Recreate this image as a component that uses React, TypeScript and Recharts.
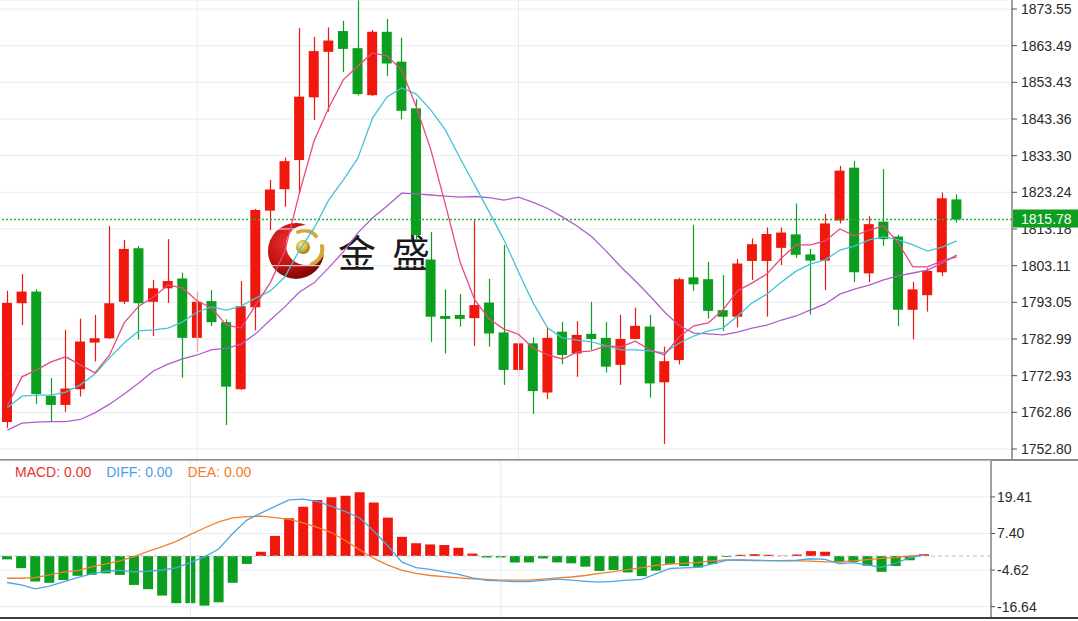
import React from 'react';
import { ComposedChart, Bar, Line, XAxis, YAxis, CartesianGrid, ReferenceLine, Cell } from 'recharts';

// ---------- data ----------
const opens = [1760.2, 1792.8, 1796.0, 1767.4, 1764.9, 1769.2, 1782.0, 1783.2, 1793.2, 1807.9, 1793.2, 1796.9, 1799.6, 1783.3, 1793.4, 1787.6, 1769.2, 1791.7, 1818.2, 1824.1, 1832.1, 1849.3, 1861.8, 1867.5, 1862.8, 1849.9, 1867.3, 1859.1, 1846.3, 1804.8, 1789.3, 1789.6, 1788.7, 1793.0, 1784.8, 1774.5, 1781.8, 1768.3, 1785.0, 1779.0, 1784.4, 1783.3, 1775.9, 1783.0, 1786.4, 1771.1, 1777.2, 1799.9, 1799.4, 1790.9, 1789.1, 1804.4, 1804.4, 1808.0, 1811.7, 1806.2, 1804.5, 1815.5, 1830.0, 1801.0, 1815.2, 1811.1, 1791.0, 1795.0, 1801.3, 1821.3];
const highs = [1796.2, 1800.8, 1796.6, 1772.3, 1785.5, 1788.6, 1789.6, 1814.0, 1810.2, 1808.5, 1799.2, 1810.4, 1801.2, 1796.0, 1796.4, 1788.4, 1798.9, 1818.7, 1826.6, 1832.8, 1868.4, 1865.9, 1868.5, 1870.3, 1875.9, 1867.8, 1870.8, 1865.7, 1848.8, 1812.4, 1796.6, 1795.3, 1815.6, 1799.5, 1808.8, 1794.4, 1783.4, 1786.2, 1787.7, 1787.9, 1793.2, 1787.7, 1789.6, 1791.6, 1789.6, 1780.9, 1799.8, 1814.3, 1804.2, 1800.5, 1804.9, 1810.6, 1813.6, 1813.6, 1820.2, 1807.7, 1817.3, 1830.5, 1831.8, 1816.7, 1829.6, 1811.6, 1798.7, 1802.4, 1823.2, 1822.7];
const lows = [1758.6, 1786.8, 1765.2, 1760.3, 1763.0, 1767.2, 1776.8, 1783.0, 1792.6, 1782.9, 1783.8, 1792.9, 1772.4, 1779.5, 1786.5, 1759.4, 1769.0, 1785.4, 1812.9, 1819.3, 1822.8, 1843.1, 1845.4, 1856.3, 1849.8, 1849.7, 1855.2, 1843.3, 1810.0, 1782.2, 1779.0, 1786.4, 1781.1, 1780.9, 1770.4, 1772.6, 1762.4, 1766.5, 1776.1, 1772.6, 1780.0, 1773.8, 1770.4, 1782.9, 1766.9, 1754.2, 1776.0, 1796.2, 1788.6, 1785.2, 1786.2, 1799.2, 1789.1, 1803.3, 1805.3, 1789.7, 1796.4, 1814.7, 1798.6, 1798.6, 1808.5, 1786.5, 1782.9, 1790.5, 1800.3, 1814.9];
const closes = [1792.9, 1796.0, 1767.9, 1764.9, 1769.4, 1782.3, 1783.2, 1792.8, 1807.7, 1792.8, 1796.9, 1798.9, 1783.3, 1793.2, 1787.6, 1769.9, 1792.0, 1818.4, 1824.0, 1831.8, 1849.5, 1862.0, 1864.9, 1862.6, 1850.2, 1867.3, 1858.6, 1845.6, 1811.5, 1789.1, 1788.5, 1788.5, 1792.3, 1784.5, 1774.5, 1781.8, 1768.7, 1783.3, 1778.6, 1784.1, 1783.0, 1775.4, 1783.0, 1786.6, 1770.8, 1776.9, 1799.4, 1798.0, 1790.7, 1789.1, 1803.7, 1809.0, 1811.8, 1812.2, 1806.1, 1804.5, 1814.7, 1829.2, 1801.3, 1814.5, 1810.4, 1791.0, 1796.6, 1801.7, 1821.6, 1815.78];
const ma5 = [1764.6, 1772.6, 1774.5, 1776.7, 1778.1, 1775.9, 1773.7, 1778.6, 1787.4, 1792.0, 1794.5, 1797.8, 1797.0, 1793.4, 1791.5, 1786.8, 1786.0, 1792.3, 1798.4, 1807.1, 1823.1, 1837.3, 1846.4, 1854.1, 1857.9, 1861.5, 1860.7, 1856.8, 1846.7, 1834.9, 1819.8, 1804.1, 1793.7, 1788.5, 1785.7, 1784.3, 1780.5, 1778.6, 1777.5, 1779.4, 1779.7, 1781.1, 1780.8, 1782.4, 1780.0, 1778.6, 1783.6, 1786.6, 1787.4, 1791.0, 1796.2, 1798.4, 1800.8, 1805.2, 1808.8, 1808.8, 1809.9, 1813.2, 1811.3, 1812.9, 1814.0, 1809.3, 1802.8, 1802.8, 1804.4, 1805.5];
const ma10 = [1764.1, 1767.3, 1767.6, 1767.6, 1768.4, 1770.4, 1773.4, 1777.8, 1781.9, 1785.2, 1785.5, 1786.0, 1787.7, 1790.4, 1791.8, 1790.9, 1792.0, 1794.2, 1796.2, 1800.0, 1807.4, 1813.4, 1821.1, 1826.6, 1832.6, 1843.6, 1849.4, 1851.9, 1850.2, 1845.8, 1840.3, 1832.6, 1825.2, 1817.8, 1810.2, 1801.4, 1792.9, 1786.0, 1783.3, 1782.7, 1782.2, 1781.1, 1780.0, 1780.0, 1779.7, 1779.2, 1781.9, 1783.8, 1785.2, 1786.0, 1789.3, 1792.9, 1795.3, 1798.6, 1801.6, 1803.6, 1804.7, 1807.4, 1808.5, 1810.2, 1811.0, 1810.2, 1808.8, 1807.1, 1808.2, 1809.9];
const ma20 = [1758.0, 1759.9, 1760.2, 1760.3, 1760.3, 1760.9, 1762.7, 1765.1, 1767.9, 1770.9, 1774.2, 1776.1, 1777.5, 1778.6, 1780.1, 1780.4, 1781.6, 1784.4, 1788.2, 1791.8, 1795.9, 1798.4, 1802.5, 1806.9, 1812.1, 1816.2, 1819.5, 1823.0, 1822.8, 1822.5, 1822.2, 1821.9, 1822.1, 1821.8, 1821.1, 1821.9, 1820.5, 1818.8, 1816.5, 1814.0, 1811.1, 1807.1, 1802.8, 1798.9, 1794.8, 1790.4, 1786.6, 1784.6, 1784.4, 1784.1, 1784.9, 1786.0, 1786.8, 1788.2, 1789.3, 1791.0, 1792.6, 1795.3, 1796.7, 1797.8, 1799.2, 1800.3, 1801.1, 1801.9, 1803.8, 1806.0];
const macdHist = [-1.1, -4.0, -8.4, -8.8, -7.9, -6.5, -6.2, -5.7, -6.2, -9.5, -10.9, -13.0, -15.5, -15.5, -16.3, -15.2, -8.8, -2.6, 1.4, 6.6, 12.4, 16.2, 18.4, 19.3, 19.8, 20.9, 17.6, 12.6, 6.3, 4.2, 3.8, 3.6, 2.7, 0.8, -0.5, -0.5, -2.1, -2.1, -0.8, -2.1, -2.4, -3.5, -4.9, -4.6, -5.4, -6.6, -4.8, -2.6, -3.3, -3.8, -2.6, -0.3, 0.4, 0.6, 0.4, 0.1, 0.5, 1.6, 1.4, -2.1, -2.0, -3.2, -5.2, -3.3, -1.4, 0.6];
const diffLine = [-8.7, -9.5, -10.8, -9.9, -8.5, -7.1, -5.9, -5.0, -4.7, -5.2, -5.0, -4.6, -3.9, -2.1, -0.3, 2.3, 7.4, 11.8, 14.1, 16.3, 18.4, 18.7, 17.9, 16.3, 14.6, 12.5, 8.2, 3.3, -2.0, -3.8, -4.4, -5.2, -6.0, -7.2, -8.0, -8.2, -8.4, -8.4, -8.0, -7.6, -7.9, -8.3, -8.6, -8.3, -7.9, -7.7, -5.9, -4.1, -3.9, -3.7, -2.6, -1.4, -1.3, -1.4, -1.5, -1.5, -1.4, -0.9, -1.1, -2.6, -2.2, -3.0, -3.7, -2.3, -0.6, 0.3];
const deaLine = [-7.3, -7.3, -7.1, -6.2, -5.3, -4.8, -3.6, -2.6, -1.6, -0.2, 1.5, 3.1, 4.8, 7.1, 9.2, 11.2, 12.5, 12.9, 13.1, 12.6, 12.0, 10.9, 9.4, 7.7, 5.0, 2.0, -0.8, -3.0, -4.7, -5.7, -6.4, -6.8, -7.2, -7.5, -7.7, -7.9, -7.9, -7.9, -7.6, -7.2, -6.9, -6.4, -5.7, -5.1, -4.5, -3.8, -3.1, -2.7, -2.4, -2.1, -1.6, -1.3, -1.4, -1.5, -1.5, -1.6, -1.6, -1.7, -1.9, -1.9, -1.6, -1.2, -0.8, -0.5, 0.0, 0.3];
const priceTicks = [1873.55, 1863.49, 1853.43, 1843.36, 1833.30, 1823.24, 1813.18, 1803.11, 1793.05, 1782.99, 1772.93, 1762.86, 1752.80];
const macdTicks = [19.41, 7.40, -4.62, -16.64];
const lastPrice = 1815.78;
const gridMarks = [13, 35];

// ---------- styles ----------
const RED = '#f0180c';
const GREEN = '#0c9e1e';
const FONT = '"Liberation Sans", Arial, sans-serif';
const GRID = '#e8ecf0';
const PRICE_DOMAIN = [1749.78, 1876.02];

const candleData = opens.map((o, i) => ({
  i,
  open: o,
  high: highs[i],
  low: lows[i],
  close: closes[i],
  range: [lows[i], highs[i]],
  ma5: ma5[i],
  ma10: ma10[i],
  ma20: ma20[i],
}));

const macdData = macdHist.map((m, i) => ({ i, macd: m, diff: diffLine[i], dea: deaLine[i] }));

const Candle = (props: any) => {
  const { x, y, width, height, payload } = props;
  if (!payload || x == null) return null;
  const { open, close, high, low } = payload;
  const up = close >= open;
  const color = up ? RED : GREEN;
  const span = high - low;
  const toY = (v: number) => (span === 0 ? y : y + ((high - v) / span) * height);
  const yo = toY(open);
  const yc = toY(close);
  const top = Math.min(yo, yc);
  const bh = Math.max(1.5, Math.abs(yc - yo));
  const cx = Math.round(x + width / 2) + 0.5;
  return (
    <g>
      <line x1={cx} x2={cx} y1={y} y2={y + height} stroke={color} strokeWidth={1.2} />
      <rect x={x} y={top} width={width} height={bh} fill={color} />
    </g>
  );
};

const PriceTag = (props: any) => {
  const vb = props.viewBox;
  if (!vb) return null;
  const x0 = vb.x + vb.width + 1;
  return (
    <g>
      <rect x={x0} y={vb.y - 10} width={66} height={18} fill="#0c9e1e" />
      <text x={x0 + 8} y={vb.y + 4.5} fill="#fff" fontSize={14} fontFamily={FONT}>
        {lastPrice.toFixed(2)}
      </text>
    </g>
  );
};

const Watermark = () => (
  <svg width={1078} height={460} style={{ position: 'absolute', left: 0, top: 0 }}>
    <defs>
      <radialGradient id="lg" cx="35%" cy="35%" r="70%">
        <stop offset="0%" stopColor="#f03030" />
        <stop offset="60%" stopColor="#c01010" />
        <stop offset="100%" stopColor="#7a0606" />
      </radialGradient>
      <radialGradient id="gd" cx="40%" cy="35%" r="65%">
        <stop offset="0%" stopColor="#fff2a0" />
        <stop offset="60%" stopColor="#d9b030" />
        <stop offset="100%" stopColor="#9a7a10" />
      </radialGradient>
    </defs>
    <circle cx={296} cy={251} r={28} fill="url(#lg)" />
    <circle cx={306} cy={245} r={20} fill="#fff" />
    <circle cx={303} cy={247} r={7} fill="url(#gd)" />
    <path d="M 298 232 A 15 15 0 0 1 316 236" stroke="#d4a838" strokeWidth={4} fill="none" strokeLinecap="round" />
    <path d="M 322 246 A 16 16 0 0 1 312 264" stroke="#d4a838" strokeWidth={4} fill="none" strokeLinecap="round" />
    <text x={338} y={267} fontSize={38} fill="#1a1a1a" fontFamily='"Noto Sans CJK SC", sans-serif'>金</text>
    <text x={392} y={267} fontSize={38} fill="#1a1a1a" fontFamily='"Noto Sans CJK SC", sans-serif'>盛</text>
  </svg>
);

export default function App() {
  return (
    <div style={{ position: 'absolute', left: 0, top: 0, width: 1078, height: 621, background: '#fff', overflow: 'hidden', fontFamily: FONT }}>
      <Watermark />
      <div style={{ position: 'absolute', left: 0, top: 0 }}>
        <ComposedChart width={1078} height={460} data={candleData} margin={{ top: 0, right: 0, left: 0, bottom: 0 }}>
          <CartesianGrid vertical={false} stroke={GRID} />
          <XAxis dataKey="i" type="category" hide padding={{ left: 0, right: 48 }} />
          <YAxis
            orientation="right"
            width={66}
            domain={PRICE_DOMAIN}
            allowDataOverflow
            ticks={priceTicks}
            interval={0}
            tickFormatter={(v: number) => v.toFixed(2)}
            tick={{ fill: '#2a2a2a', fontSize: 14, fontFamily: FONT }}
            tickSize={5}
            tickMargin={4}
            axisLine={{ stroke: '#808080', strokeWidth: 1.5 }}
            tickLine={{ stroke: '#555' }}
          />
          {gridMarks.map((g) => (
            <ReferenceLine key={g} x={g} stroke={GRID} />
          ))}
          <Bar dataKey="range" shape={<Candle />} barSize={10} isAnimationActive={false} />
          <Line dataKey="ma20" stroke="#b05ccc" strokeWidth={1.3} dot={false} activeDot={false} isAnimationActive={false} />
          <Line dataKey="ma10" stroke="#45c3d6" strokeWidth={1.3} dot={false} activeDot={false} isAnimationActive={false} />
          <Line dataKey="ma5" stroke="#e8497e" strokeWidth={1.3} dot={false} activeDot={false} isAnimationActive={false} />
        </ComposedChart>
      </div>
      {/* overlay: last-price line and tag, drawn above the axis labels */}
      <div style={{ position: 'absolute', left: 0, top: 0 }}>
        <ComposedChart width={1078} height={460} data={candleData} margin={{ top: 0, right: 0, left: 0, bottom: 0 }}>
          <XAxis dataKey="i" type="category" hide padding={{ left: 0, right: 48 }} />
          <YAxis orientation="right" width={66} domain={PRICE_DOMAIN} allowDataOverflow ticks={priceTicks} tick={false} tickLine={false} axisLine={false} />
          <ReferenceLine y={lastPrice} stroke="#22b035" strokeDasharray="2 2" strokeWidth={1.4} label={PriceTag} />
        </ComposedChart>
      </div>
      <div style={{ position: 'absolute', left: 0, top: 459, width: 1078, height: 2, background: '#8a8a8a' }} />
      <div style={{ position: 'absolute', left: 0, top: 460 }}>
        <ComposedChart width={1078} height={160} data={macdData} margin={{ top: 1, right: 0, left: 0, bottom: 2 }}>
          <CartesianGrid vertical={false} stroke={GRID} />
          <XAxis dataKey="i" type="category" hide padding={{ left: 0, right: 60 }} />
          <YAxis
            orientation="right"
            width={87}
            domain={[-20.36, 31.2]}
            allowDataOverflow
            ticks={macdTicks}
            interval={0}
            tickFormatter={(v: number) => v.toFixed(2)}
            tick={{ fill: '#2a2a2a', fontSize: 14, fontFamily: FONT }}
            tickSize={4}
            tickMargin={2}
            axisLine={{ stroke: '#808080', strokeWidth: 1.5 }}
            tickLine={{ stroke: '#555' }}
          />
          {gridMarks.map((g) => (
            <ReferenceLine key={g} x={g} stroke={GRID} />
          ))}
          <ReferenceLine y={0} stroke="#b8c2cc" strokeDasharray="4 3" />
          <Bar dataKey="macd" barSize={10} isAnimationActive={false}>
            {macdData.map((d) => (
              <Cell key={d.i} fill={d.macd >= 0 ? RED : GREEN} />
            ))}
          </Bar>
          <Line dataKey="dea" stroke="#f08030" strokeWidth={1.3} dot={false} activeDot={false} isAnimationActive={false} />
          <Line dataKey="diff" stroke="#4ea6e6" strokeWidth={1.3} dot={false} activeDot={false} isAnimationActive={false} />
        </ComposedChart>
      </div>
      <div style={{ position: 'absolute', left: 0, top: 617, width: 1078, height: 2, background: '#3c3c3c' }} />
      <div style={{ position: 'absolute', left: 15, top: 464, fontSize: 14, whiteSpace: 'nowrap' }}>
        <span style={{ color: '#e8332a' }}>MACD: 0.00</span>
        <span style={{ color: '#4aa0e6', marginLeft: 15 }}>DIFF: 0.00</span>
        <span style={{ color: '#f07c2a', marginLeft: 15 }}>DEA: 0.00</span>
      </div>
    </div>
  );
}
